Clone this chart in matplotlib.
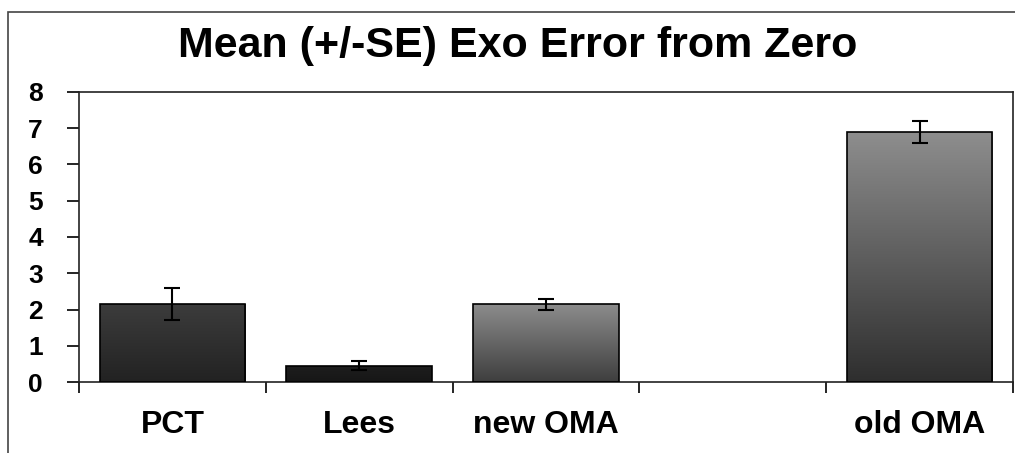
import numpy as np
import matplotlib
matplotlib.use("Agg")
import matplotlib.pyplot as plt
from matplotlib.patches import Rectangle
from matplotlib.colors import LinearSegmentedColormap

title = "Mean (+/-SE) Exo Error from Zero"
categories = ["PCT", "Lees", "new OMA", "", "old OMA"]
means = [2.15, 0.45, 2.15, 0.0, 6.9]
errors = [0.45, 0.12, 0.15, 0.0, 0.3]
top_colors = ["#3c3c3c", "#1e1e1e", "#8c8c8c", "#ffffff", "#8e8e8e"]
bottom_colors = ["#222222", "#161616", "#3e3e3e", "#ffffff", "#2e2e2e"]
yticks = [0, 1, 2, 3, 4, 5, 6, 7, 8]

plt.rcParams['font.family'] = ['Liberation Sans', 'DejaVu Sans']

fig = plt.figure(figsize=(10.15, 4.53), dpi=100)
ax = fig.add_axes([79 / 1015, 1 - 382 / 453, (1013 - 79) / 1015, (382 - 92) / 453])

x = np.arange(len(categories))
width = 0.78
bars = ax.bar(x, means, width=width, facecolor='none', edgecolor='black', linewidth=1.2, zorder=3)
for i, b in enumerate(bars):
    if means[i] <= 0:
        b.set_visible(False)
        continue
    cmap = LinearSegmentedColormap.from_list("g%d" % i, [bottom_colors[i], top_colors[i]])
    grad = np.linspace(0, 1, 256).reshape(-1, 1)
    im = ax.imshow(grad, cmap=cmap, aspect='auto', origin='lower',
                   extent=[b.get_x(), b.get_x() + b.get_width(), 0, b.get_height()],
                   zorder=2)
    im.set_clip_path(b)

mask = [m > 0 for m in means]
ax.errorbar(x[mask], np.array(means)[mask], yerr=np.array(errors)[mask], fmt='none',
            ecolor='black', elinewidth=1.5, capsize=5.5, capthick=1.5, zorder=4)

ax.set_xlim(-0.5, len(categories) - 0.5)
ax.set_ylim(0, 8)
ax.set_yticks(yticks)
ax.set_yticklabels([str(t) for t in yticks], fontsize=19, fontweight='bold')
ax.set_xticks(x)
ax.set_xticklabels(categories, fontsize=23, fontweight='bold')
ax.set_xticks(np.arange(-0.5, len(categories), 1.0), minor=True)
ax.tick_params(axis='x', which='major', length=0, pad=20)
ax.tick_params(axis='x', which='minor', length=8, width=1.2, direction='out')
ax.tick_params(axis='y', which='major', length=9, width=1.2, direction='out', pad=17)
for s in ax.spines.values():
    s.set_linewidth(1.2)
    s.set_color('#222222')

fig.suptitle(title, x=518 / 1015, y=1 - 46 / 453, va='center', fontsize=31, fontweight='bold')

fig.patches.append(Rectangle((8 / 1015, -0.1), 1.2, (1 - 12 / 453) + 0.1, transform=fig.transFigure,
                             fill=False, edgecolor='#444444', linewidth=1.2))

fig.savefig("out.png", dpi=100)
